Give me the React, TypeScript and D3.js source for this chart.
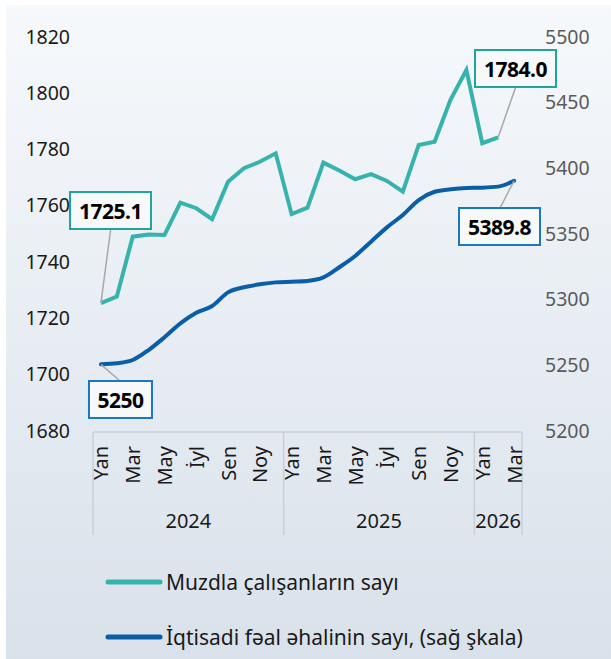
import React from "react";
import * as d3 from "d3";

const monthLabels = ["Yan","Fev","Mar","Apr","May","İyn","İyl","Avq","Sen","Okt","Noy","Dek","Yan","Fev","Mar","Apr","May","İyn","İyl","Avq","Sen","Okt","Noy","Dek","Yan","Fev","Mar"];
const years = [
  { label: "2024", start: 0, end: 11 },
  { label: "2025", start: 12, end: 23 },
  { label: "2026", start: 24, end: 26 },
];
const employees = [1725.1, 1727.4, 1748.7, 1749.5, 1749.3, 1760.8, 1758.8, 1754.9, 1768.2, 1773.0, 1775.3, 1778.3, 1756.7, 1759.0, 1775.0, 1772.2, 1769.1, 1770.9, 1768.5, 1764.7, 1781.3, 1782.4, 1797.3, 1807.9, 1781.9, 1784.0];
const activePop = [5250, 5250.8, 5253.3, 5260.9, 5270.6, 5281.2, 5289.3, 5294.4, 5304.8, 5308.7, 5310.9, 5312.4, 5312.9, 5313.5, 5316.2, 5323.9, 5332.5, 5343.4, 5354.3, 5363.7, 5375.1, 5381.4, 5383.3, 5384.3, 5384.5, 5385.3, 5389.8];
const leftTicks = [1680, 1700, 1720, 1740, 1760, 1780, 1800, 1820];
const rightTicks = [5200, 5250, 5300, 5350, 5400, 5450, 5500];
const legendLabels = ["Muzdla çalışanların sayı", "İqtisadi fəal əhalinin sayı, (sağ şkala)"];

const TEAL = "#38b2ac";
const TEAL_BORDER = "#1fa59c";
const BLUE = "#0a5ea8";
const BLUE_BORDER = "#1b76c4";
const FONT = "'Noto Sans', 'Open Sans', sans-serif";

export default function App() {
  const W = 611, H = 659;
  const x = d3.scaleBand<number>().domain(d3.range(monthLabels.length)).range([93, 522]);
  const bw = x.bandwidth();
  const cx = (i: number) => (x(i) as number) + bw / 2;
  const yL = d3.scaleLinear().domain([1680, 1820]).range([430, 36]);
  const yR = d3.scaleLinear().domain([5200, 5500]).range([430, 36]);

  const tealLine = d3.line<number>().x((_, i) => cx(i)).y((d) => yL(d));
  const blueLine = d3.line<number>().x((_, i) => cx(i)).y((d) => yR(d)).curve(d3.curveMonotoneX);

  const lastT = employees.length - 1;
  const lastB = activePop.length - 1;
  const annotations = [
    { text: "1725.1", px: cx(0), py: yL(employees[0]), bx: 70, by: 192, bw: 81, ax: 110.7, ay: 229, color: TEAL_BORDER },
    { text: "1784.0", px: cx(lastT), py: yL(employees[lastT]), bx: 475, by: 50, bw: 81, ax: 515.7, ay: 87, color: TEAL_BORDER },
    { text: "5250", px: cx(0), py: yR(activePop[0]), bx: 89, by: 381, bw: 63, ax: 120, ay: 381, color: BLUE_BORDER },
    { text: "5389.8", px: cx(lastB), py: yR(activePop[lastB]), bx: 459, by: 208, bw: 81, ax: 500, ay: 208, color: BLUE_BORDER },
  ];

  const axisTop = 432, axisBottom = 535;
  const sepX = [x(0) as number, x(12) as number, x(24) as number, (x(26) as number) + bw];

  return (
    <div style={{ position: "absolute", left: 0, top: 0 }}>
      <svg width={W} height={H} style={{ display: "block", fontFamily: FONT }}>
        <defs>
          <linearGradient id="bg" x1="0" y1="0" x2="0" y2="1">
            <stop offset="0" stopColor="#f6f9fc" />
            <stop offset="1" stopColor="#d9e1ea" />
          </linearGradient>
        </defs>
        <rect x={0} y={0} width={W} height={H} fill="#ffffff" />
        <rect x={6} y={5} width={W - 6} height={H - 5} fill="url(#bg)" />

        {leftTicks.map((t) => (
          <text key={"l" + t} x={70} y={yL(t)} textAnchor="end" dominantBaseline="central" fontSize={19.5} fill="#1a1a1a">{t}</text>
        ))}
        {rightTicks.map((t) => (
          <text key={"r" + t} x={545} y={yR(t)} textAnchor="start" dominantBaseline="central" fontSize={19.5} fill="#5a5a5a">{t}</text>
        ))}

        {/* x-axis frame */}
        <line x1={sepX[0]} x2={sepX[3]} y1={axisTop} y2={axisTop} stroke="#c9cfd6" strokeWidth={1.5} />
        {sepX.map((sx, i) => (
          <line key={"s" + i} x1={sx} x2={sx} y1={axisTop} y2={axisBottom} stroke="#c9cfd6" strokeWidth={1.5} />
        ))}
        {monthLabels.map((m, i) =>
          i % 2 === 0 ? (
            <text key={"m" + i} transform={`translate(${cx(i)},${446}) rotate(-90)`} textAnchor="end" dominantBaseline="central" fontSize={20} fill="#1a1a1a">{m}</text>
          ) : null
        )}
        {years.map((yv) => (
          <text key={yv.label} x={((x(yv.start) as number) + (x(yv.end) as number) + bw) / 2} y={520} textAnchor="middle" dominantBaseline="central" fontSize={20} fill="#1a1a1a">{yv.label}</text>
        ))}

        <path d={tealLine(employees) || ""} fill="none" stroke={TEAL} strokeWidth={4} strokeLinejoin="miter" />
        <path d={blueLine(activePop) || ""} fill="none" stroke={BLUE} strokeWidth={4} strokeLinecap="round" />

        {annotations.map((a) => (
          <g key={a.text}>
            <line x1={a.px} y1={a.py} x2={a.ax} y2={a.ay} stroke="#a8a8a8" strokeWidth={1.5} />
            <rect x={a.bx} y={a.by} width={a.bw} height={37} fill="#f6f8fa" stroke={a.color} strokeWidth={2} />
            <text x={a.bx + a.bw / 2} y={a.by + 19} textAnchor="middle" dominantBaseline="central" fontSize={21} fontWeight="bold" fill="#000" letterSpacing={-0.5}>{a.text}</text>
          </g>
        ))}

        {/* legend */}
        <line x1={108} x2={160} y1={582} y2={582} stroke={TEAL} strokeWidth={5} strokeLinecap="round" />
        <text x={166} y={582} dominantBaseline="central" fontSize={21} fill="#1a1a1a">{legendLabels[0]}</text>
        <line x1={108} x2={160} y1={637} y2={637} stroke={BLUE} strokeWidth={5} strokeLinecap="round" />
        <text x={166} y={637} dominantBaseline="central" fontSize={21} fill="#1a1a1a">{legendLabels[1]}</text>
      </svg>
    </div>
  );
}
